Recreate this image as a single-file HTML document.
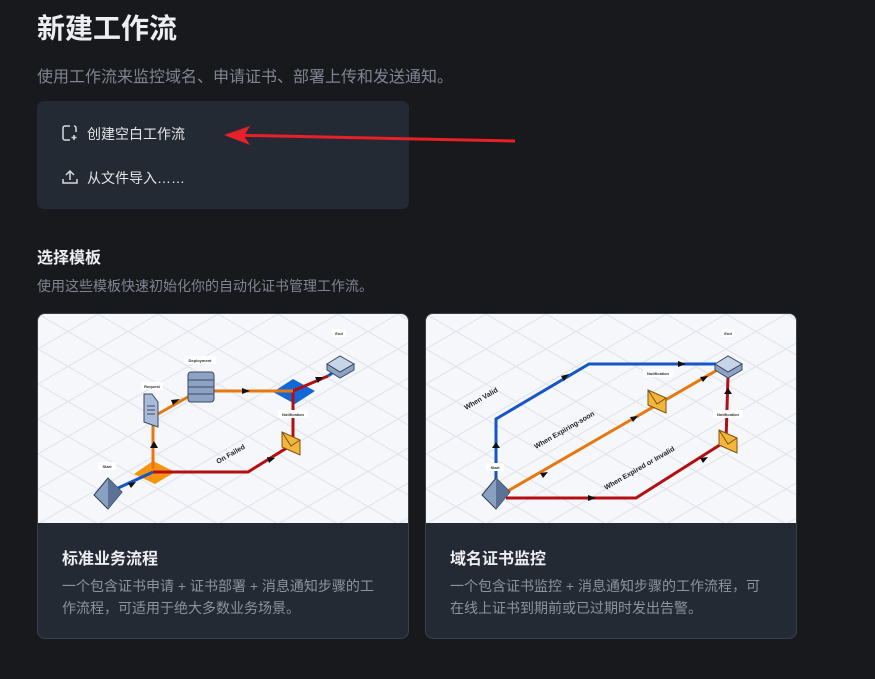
<!DOCTYPE html>
<html><head><meta charset="utf-8"><style>
*{margin:0;padding:0;box-sizing:border-box}
body{width:875px;height:679px;background:#18191d;font-family:"Liberation Sans","Noto Sans CJK SC",sans-serif;position:relative;overflow:hidden;color:#e6e8ec}
.a{position:absolute;white-space:nowrap}
.card{position:absolute;top:313px;width:372px;height:326px;background:#242a33;border:1px solid #3a404b;border-radius:8px;overflow:hidden}
.card svg{position:absolute;left:0;top:0}
.ct{position:absolute;left:24px;top:231px;font-size:16px;font-weight:bold;color:#eceef1}
.cd{position:absolute;left:24px;top:261px;width:322px;font-size:14px;line-height:22px;color:#8d939d;white-space:normal}
</style></head><body>
<div class="a" style="left:37px;top:7px;font-size:28px;font-weight:bold;color:#eceef1">新建工作流</div>
<div class="a" style="left:37px;top:63px;font-size:16px;color:#7f8590">使用工作流来监控域名、申请证书、部署上传和发送通知。</div>
<div class="a" style="left:37px;top:101px;width:372px;height:108px;background:#242a33;border-radius:7px"></div>
<svg class="a" style="left:61px;top:124px" width="18" height="18" viewBox="0 0 18 18" fill="none" stroke="#d6d9de" stroke-width="1.5"><path d="M9 2H4a2 2 0 0 0-2 2v10a2 2 0 0 0 2 2h5M15 8V4a2 2 0 0 0-2-2M13 11v5M10.5 13.5h5"/></svg>
<div class="a" style="left:87px;top:124px;font-size:14px;color:#e3e5e9">创建空白工作流</div>
<svg class="a" style="left:61px;top:168px" width="18" height="18" viewBox="0 0 18 18" fill="none" stroke="#d6d9de" stroke-width="1.5"><path d="M2 11v4h14v-4M9 12V3M5 7l4-4 4 4"/></svg>
<div class="a" style="left:87px;top:168px;font-size:14px;color:#e3e5e9">从文件导入……</div>
<svg class="a" style="left:220px;top:124px" width="300" height="24"><path d="M8 11 L295 17" stroke="#e8202a" stroke-width="3"/><path d="M4 11 L30 2 L24 12 L30 21 Z" fill="#e8202a"/></svg>
<div class="a" style="left:37px;top:244px;font-size:16px;font-weight:bold;color:#eceef1">选择模板</div>
<div class="a" style="left:37px;top:276px;font-size:14px;color:#7f8590">使用这些模板快速初始化你的自动化证书管理工作流。</div>

<div class="card" style="left:37px">
<svg width="372" height="209" viewBox="0 0 372 209">
<defs><pattern id="g" width="60" height="35" patternUnits="userSpaceOnUse"><path d="M0 0L60 35M60 0L0 35" stroke="#dfe3ea" stroke-width="1"/></pattern></defs>
<rect width="372" height="209" fill="#f5f7fb"/><rect width="372" height="209" fill="url(#g)"/>
<path d="M96 160 L115 147 L137 158 L117 170Z" fill="#f7940f"/>
<path d="M235 78 L255 65 L277 77 L257 90Z" fill="#1467d6"/>
<path d="M78 175 L115 158" stroke="#1555c8" stroke-width="3"/>
<path d="M115 158 L210 158 L255 130 L255 77 L290 62" stroke="#b30f13" stroke-width="3" fill="none"/>
<path d="M300 55 L290 62" stroke="#1555c8" stroke-width="3"/>
<path d="M115 155 L115 110 M120 100 L155 80 M175 77 L255 77" stroke="#e6780f" stroke-width="3" fill="none"/>
<polygon points="116,127 120,134 112,134" fill="#111"/><polygon points="142,85 135,91 133,86" fill="#111"/><polygon points="212,77 204,74 204,80" fill="#111"/><polygon points="237,144 229,143 231,149" fill="#111"/><polygon points="98,168 90,169 93,174" fill="#111"/><polygon points="285,63 277,63 280,69" fill="#111"/>
<path d="M70 164 L84 178 L70 195 L56 181Z" fill="#8aa0c0" stroke="#2b3a55"/><path d="M70 164 L70 195 L84 178Z" fill="#5b7296"/>
<path d="M106 80 L114 80 L120 88 L120 113 L106 108Z" fill="#a9bbd8" stroke="#3a4a66"/><path d="M109 92H117M109 96H117M109 100H117" stroke="#3a4a66"/>
<rect x="150" y="58" width="26" height="30" rx="3" fill="#8ea3c4" stroke="#3a4a66"/><path d="M150 66H176M150 73H176M150 80H176" stroke="#3a4a66"/>
<path d="M289 50 L302 42 L316 50 L302 58Z" fill="#c8d4e8" stroke="#3a4a66"/><path d="M289 50 L289 56 L302 64 L316 56 L316 50 L302 58Z" fill="#8ea3c4" stroke="#3a4a66"/>
<path d="M244 118 L262 126 L262 141 L244 133Z" fill="#f4b63a" stroke="#7a5510"/><path d="M244 118 L253 132 L262 126" stroke="#7a5510" fill="none"/>
<g font-size="4" font-weight="bold" fill="#333" text-anchor="middle">
<rect x="60" y="148" width="18" height="8" rx="2" fill="#fff"/><text x="69" y="154">Start</text>
<rect x="103" y="68" width="22" height="8" rx="2" fill="#fff"/><text x="114" y="74">Request</text>
<rect x="146" y="42" width="32" height="8" rx="2" fill="#fff"/><text x="162" y="48">Deployment</text>
<rect x="240" y="96" width="30" height="8" rx="2" fill="#fff"/><text x="255" y="102">Notification</text>
<rect x="294" y="15" width="14" height="8" rx="2" fill="#fff"/><text x="301" y="21">End</text>
</g>
<text x="180" y="150" font-size="7" font-weight="bold" fill="#222" transform="rotate(-30 180 150)">On Failed</text>
</svg>
<div class="ct">标准业务流程</div>
<div class="cd">一个包含证书申请 + 证书部署 + 消息通知步骤的工作流程，可适用于绝大多数业务场景。</div>
</div>

<div class="card" style="left:425px">
<svg width="372" height="209" viewBox="0 0 372 209">
<rect width="372" height="209" fill="#f5f7fb"/><rect width="372" height="209" fill="url(#g)"/>
<path d="M70 172 L70 105 L163 50 L290 50" stroke="#1555c8" stroke-width="3" fill="none"/>
<path d="M80 178 L293 55" stroke="#e6780f" stroke-width="3"/>
<path d="M80 184 L210 184 L300 127 L302 62" stroke="#b30f13" stroke-width="3" fill="none"/>
<polygon points="70,128 74,134 66,134" fill="#111"/><polygon points="143,60 135,62 138,67" fill="#111"/><polygon points="260,50 252,47 252,53" fill="#111"/><polygon points="122,158 114,159 117,164" fill="#111"/><polygon points="212,102 204,103 207,108" fill="#111"/><polygon points="282,62 274,63 277,68" fill="#111"/><polygon points="170,184 162,181 162,187" fill="#111"/><polygon points="282,143 274,144 277,149" fill="#111"/><polygon points="302,74 306,80 298,80" fill="#111"/>
<path d="M70 164 L84 178 L70 195 L56 181Z" fill="#8aa0c0" stroke="#2b3a55"/><path d="M70 164 L70 195 L84 178Z" fill="#5b7296"/>
<path d="M289 50 L302 42 L316 50 L302 58Z" fill="#c8d4e8" stroke="#3a4a66"/><path d="M289 50 L289 56 L302 64 L316 56 L316 50 L302 58Z" fill="#8ea3c4" stroke="#3a4a66"/>
<path d="M222 76 L240 84 L240 99 L222 91Z" fill="#f4b63a" stroke="#7a5510"/><path d="M222 76 L231 90 L240 84" stroke="#7a5510" fill="none"/>
<path d="M293 116 L311 124 L311 139 L293 131Z" fill="#f4b63a" stroke="#7a5510"/><path d="M293 116 L302 130 L311 124" stroke="#7a5510" fill="none"/>
<g font-size="4" font-weight="bold" fill="#333" text-anchor="middle">
<rect x="60" y="149" width="18" height="8" rx="2" fill="#fff"/><text x="69" y="155">Start</text>
<rect x="217" y="55" width="30" height="8" rx="2" fill="#fff"/><text x="232" y="61">Notification</text>
<rect x="287" y="96" width="30" height="8" rx="2" fill="#fff"/><text x="302" y="102">Notification</text>
<rect x="295" y="15" width="14" height="8" rx="2" fill="#fff"/><text x="302" y="21">End</text>
</g>
<g font-size="7" font-weight="bold" fill="#222">
<text x="40" y="96" transform="rotate(-30 40 96)">When Valid</text>
<text x="110" y="135" transform="rotate(-30 110 135)">When Expiring-soon</text>
<text x="180" y="176" transform="rotate(-30 180 176)">When Expired or Invalid</text>
</g>
</svg>
<div class="ct">域名证书监控</div>
<div class="cd">一个包含证书监控 + 消息通知步骤的工作流程，可在线上证书到期前或已过期时发出告警。</div>
</div>
</body></html>
